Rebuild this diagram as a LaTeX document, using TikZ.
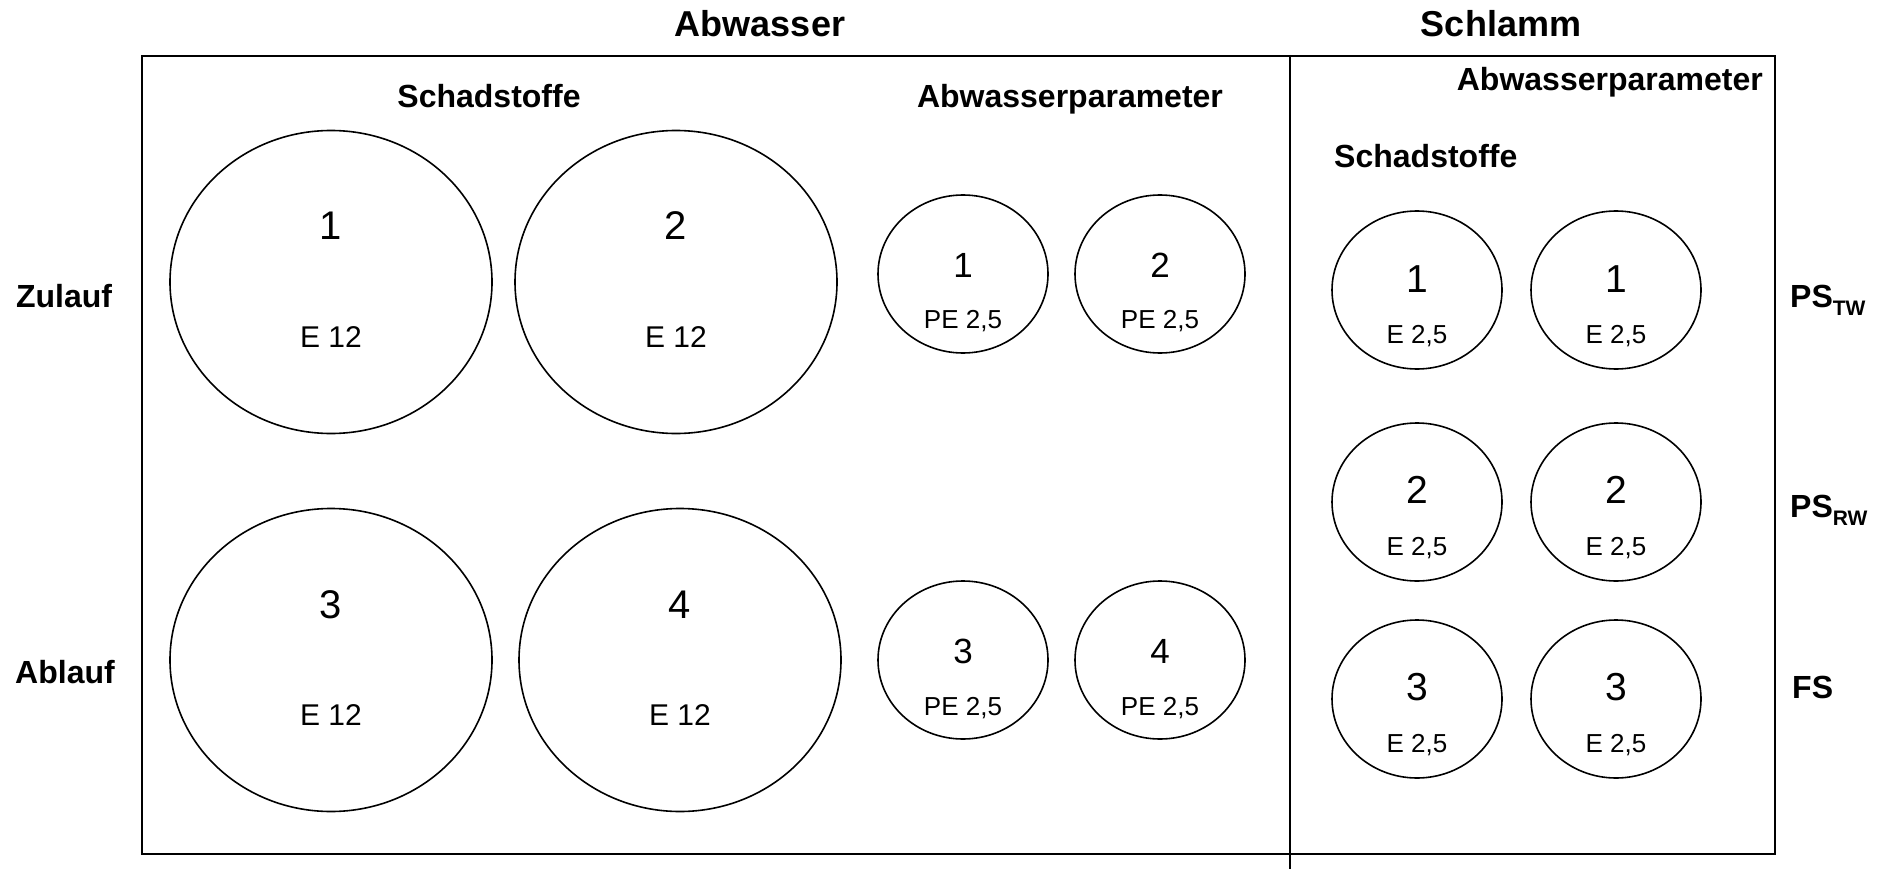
\documentclass[tikz,border=0pt]{standalone}
\usepackage{fontspec}
\setmainfont{Liberation Sans}
\usetikzlibrary{shapes.geometric}
\begin{document}
\begin{tikzpicture}[x=1pt,y=-1pt,
  frame/.style={line width=2.2pt},
  bigell/.style={draw, ellipse, line width=1.6pt, minimum width=322pt, minimum height=303pt, inner sep=0pt},
  smell/.style={draw, ellipse, line width=1.6pt, minimum width=170pt, minimum height=158pt, inner sep=0pt},
  txt/.style={anchor=base, inner sep=0pt},
  title/.style={txt, font=\fontsize{36}{36}\selectfont\bfseries},
  head/.style={txt, font=\fontsize{32}{32}\selectfont\bfseries},
  bignum/.style={txt, font=\fontsize{40}{40}\selectfont},
  biglab/.style={txt, font=\fontsize{30}{30}\selectfont},
  abwnum/.style={txt, font=\fontsize{35}{35}\selectfont},
  slnum/.style={txt, font=\fontsize{39}{39}\selectfont},
  smlab/.style={txt, font=\fontsize{26}{26}\selectfont}
]
\useasboundingbox (0,0) rectangle (1881,869);

% frame
\node[draw, frame, anchor=north west, minimum width=1633pt, minimum height=798pt, inner sep=0pt] (box) at (141,55) {};
\coordinate (divtop) at (1290,55);
\coordinate (divbot) at (1290,869);
\draw[frame] (divtop) -- (divbot);

% titles
\node[title] (tAbw) at (760,37) {Abwasser};
\node[title] (tSchl) at (1501,37) {Schlamm};
\node[head] (hSchadL) at (489,108) {Schadstoffe};
\node[head] (hParL) at (1070,108) {Abwasserparameter};
\node[head, anchor=base east] (hParR) at (1763,91) {Abwasserparameter};
\node[head, anchor=base west] (hSchadR) at (1334,168) {Schadstoffe};
\node[head] (zul) at (64,307) {Zulauf};
\node[head] (abl) at (65,683) {Ablauf};
\node[head, anchor=base west] (pstw) at (1790,307) {PS\raisebox{-8pt}{\fontsize{21}{21}\selectfont TW}};
\node[head, anchor=base west] (psrw) at (1790,517) {PS\raisebox{-8pt}{\fontsize{21}{21}\selectfont RW}};
\node[head, anchor=base west] (fs) at (1792,698) {FS};

% big ellipses
\node[bigell] (e1) at (331,282) {};
\node[bigell] (e2) at (676,282) {};
\node[bigell] (e3) at (331,660) {};
\node[bigell] (e4) at (680,660) {};
\node[bignum] (e1n) at (331,240) {1};
\node[biglab] (e1l) at (331,347) {E 12};
\node[bignum] (e2n) at (676,240) {2};
\node[biglab] (e2l) at (676,347) {E 12};
\node[bignum] (e3n) at (331,618) {3};
\node[biglab] (e3l) at (331,725) {E 12};
\node[bignum] (e4n) at (680,618) {4};
\node[biglab] (e4l) at (680,725) {E 12};

% Abwasserparameter ellipses
\node[smell] (a1) at (963,274) {};
\node[smell] (a2) at (1160,274) {};
\node[smell] (a3) at (963,660) {};
\node[smell] (a4) at (1160,660) {};
\node[abwnum] (a1n) at (963,277) {1};
\node[smlab] (a1l) at (963,328) {PE 2,5};
\node[abwnum] (a2n) at (1160,277) {2};
\node[smlab] (a2l) at (1160,328) {PE 2,5};
\node[abwnum] (a3n) at (963,663) {3};
\node[smlab] (a3l) at (963,715) {PE 2,5};
\node[abwnum] (a4n) at (1160,663) {4};
\node[smlab] (a4l) at (1160,715) {PE 2,5};

% Schlamm ellipses
\node[smell] (s1a) at (1417,290) {};
\node[smell] (s1b) at (1616,290) {};
\node[smell] (s2a) at (1417,502) {};
\node[smell] (s2b) at (1616,502) {};
\node[smell] (s3a) at (1417,699) {};
\node[smell] (s3b) at (1616,699) {};
\node[slnum] (s1an) at (1417,292) {1};
\node[smlab] (s1al) at (1417,343) {E 2,5};
\node[slnum] (s1bn) at (1616,292) {1};
\node[smlab] (s1bl) at (1616,343) {E 2,5};
\node[slnum] (s2an) at (1417,503) {2};
\node[smlab] (s2al) at (1417,555) {E 2,5};
\node[slnum] (s2bn) at (1616,503) {2};
\node[smlab] (s2bl) at (1616,555) {E 2,5};
\node[slnum] (s3an) at (1417,700) {3};
\node[smlab] (s3al) at (1417,752) {E 2,5};
\node[slnum] (s3bn) at (1616,700) {3};
\node[smlab] (s3bl) at (1616,752) {E 2,5};
\end{tikzpicture}
\end{document}
